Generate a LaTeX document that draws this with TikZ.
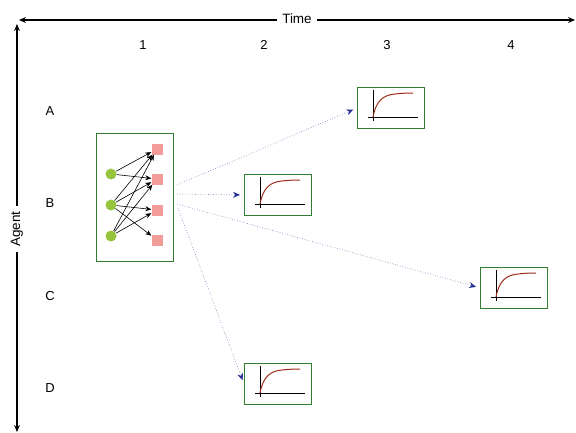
\documentclass[tikz,border=0pt]{standalone}
\usepackage{fontspec}
\setmainfont{Liberation Sans}
\usetikzlibrary{arrows.meta,calc}

\definecolor{boxgreen}{RGB}{46,125,50}
\definecolor{dotgreen}{RGB}{150,196,60}
\definecolor{sqpink}{RGB}{241,156,153}
\definecolor{curvered}{RGB}{160,45,25}
\definecolor{linkblue}{RGB}{40,50,150}

\tikzset{
  axisline/.style={line width=1.3pt,{Stealth[length=7pt,width=6pt]}-{Stealth[length=7pt,width=6pt]}},
  axislabel/.style={fill=white,inner xsep=5pt,inner ysep=2pt,font=\fontsize{13.5}{15}\selectfont},
  gridlabel/.style={font=\fontsize{13}{15}\selectfont},
  framebox/.style={draw=boxgreen,line width=0.9pt,fill=white,inner sep=0pt,anchor=north west},
  chartbox/.style={framebox,minimum width=67pt,minimum height=41pt},
  inputdot/.style={circle,fill=dotgreen,inner sep=0pt,minimum size=11pt},
  outputsq/.style={rectangle,fill=sqpink,inner sep=0pt,minimum size=11pt},
  wire/.style={line width=0.6pt,-{Stealth[length=6pt,width=5pt]}},
  link/.style={linkblue!70,line width=0.6pt,dotted,shorten >=4pt,
    -{Stealth[length=7pt,width=6pt,color=linkblue]}}
}

% small response curve drawn inside a chart box
\newcommand{\responsechart}[1]{%
  \begin{scope}[shift={(#1.north west)}]
    \draw[line width=0.8pt] (16,3) -- (16,34);
    \draw[line width=0.8pt] (11,30) -- (61,30);
    \draw[curvered,line width=1pt] (16,30) .. controls (19,14) and (26,8) .. (38,7)
      .. controls (46,6) and (52,6) .. (56,6);
  \end{scope}}

\begin{document}
\begin{tikzpicture}[x=1pt,y=-1pt]
  \useasboundingbox (0,0) rectangle (576,432);

  % axes
  \coordinate (tl) at (19,20);
  \coordinate (tr) at (575,20);
  \draw[axisline] (tl) -- (tr);
  \node[axislabel] (time) at (297,19) {Time};
  \coordinate (vt) at (17,24);
  \coordinate (vb) at (17,432);
  \draw[axisline] (vt) -- (vb);
  \node[axislabel,rotate=90] (agent) at (17,229) {Agent};

  % column and row labels
  \node[gridlabel] (c1lab) at (143,45) {1};
  \node[gridlabel] (c2lab) at (264,45) {2};
  \node[gridlabel] (c3lab) at (387,45) {3};
  \node[gridlabel] (c4lab) at (511,45) {4};
  \node[gridlabel] (ra) at (50,111) {A};
  \node[gridlabel] (rb) at (50,203) {B};
  \node[gridlabel] (rc) at (50,296) {C};
  \node[gridlabel] (rd) at (50,388) {D};

  % agent network box at (1,B)
  \node[framebox,minimum width=77pt,minimum height=128pt] (net) at (96,133) {};
  \node[inputdot] (c1) at (111,174) {};
  \node[inputdot] (c2) at (111,205) {};
  \node[inputdot] (c3) at (111,236) {};
  \node[outputsq] (s1) at (157,149) {};
  \node[outputsq] (s2) at (157,179) {};
  \node[outputsq] (s3) at (157,210) {};
  \node[outputsq] (s4) at (157,240) {};
  \draw[wire] (c1) -- (s1);
  \draw[wire] (c1) -- (s2);
  \draw[wire] (c2) -- (s1);
  \draw[wire] (c2) -- (s2);
  \draw[wire] (c2) -- (s3);
  \draw[wire] (c2) -- (s4);
  \draw[wire] (c3) -- (s1);
  \draw[wire] (c3) -- (s2);
  \draw[wire] (c3) -- (s3);

  % chart boxes
  \node[chartbox] (a3) at (357,87) {};
  \node[chartbox] (b2) at (244,174) {};
  \node[chartbox] (c4) at (480,267) {};
  \node[chartbox] (d2) at (244,363) {};
  \responsechart{a3}
  \responsechart{b2}
  \responsechart{c4}
  \responsechart{d2}

  % links from the network box
  \coordinate (o1) at (177,185);
  \coordinate (o2) at (177,194);
  \coordinate (o3) at (177,204);
  \coordinate (o4) at (178,208);
  \draw[link] (o1) -- (a3.west);
  \draw[link] (o2) -- (b2.west);
  \draw[link] (o3) -- (c4.west);
  \draw[link] (o4) -- (d2.west);
\end{tikzpicture}
\end{document}
